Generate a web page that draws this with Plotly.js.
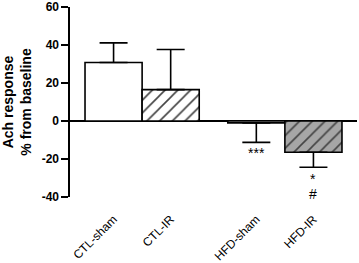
<!DOCTYPE html>
<html>
<head>
<meta charset="utf-8">
<script src="https://cdn.plot.ly/plotly-3.0.1.min.js"></script>
<style>
  body { margin: 0; background: #fff; }
  #chart { width: 359px; height: 263px; }
</style>
</head>
<body>
<div id="chart"></div>
<script>
// Ach response chart, bars with one sided SEM

let groups = ['CTL-sham', 'CTL-IR', 'HFD-sham', 'HFD-IR']
let groupPos = [0, 1, 2.5, 3.5]
let means = [30.8, 16.5, -1.0, -16.5]
let errUp = [10.4, 21.2, 0, 0]
let errDown = [0, 0, 10.3, 7.9]
let fills = ['#ffffff', '#ffffff', '#ffffff', '#a6a6a6']
let hatch = ['', '/', '', '/']

let sigText = ['***', '*', '#']
let sigX = [2.5, 3.5, 3.5]
let sigY = [-16.8, -30.4, -38.6]

let font = 'Arial, "Liberation Sans", sans-serif'

let trace = {
    type: 'bar',
    x: groupPos,
    y: means,
    width: 1,
    marker: {
        color: fills,
        line: { color: '#000', width: 1.6 },
        pattern: {
            shape: hatch,
            fillmode: 'overlay',
            fgcolor: '#000',
            fgopacity: 1,
            size: 9,
            solidity: 0.18
        }
    },
    error_y: {
        type: 'data',
        symmetric: false,
        array: errUp,
        arrayminus: errDown,
        color: '#000',
        thickness: 1.6,
        width: 14
    },
    hoverinfo: 'skip'
}

let layout = {
    width: 359,
    height: 263,
    margin: { t: 7, b: 66, l: 70, r: 2 },
    paper_bgcolor: '#fff',
    plot_bgcolor: '#fff',
    showlegend: false,
    font: { family: font, color: '#000' },
    xaxis: {
        range: [-0.763, 4.263],
        tickmode: 'array',
        tickvals: groupPos,
        ticktext: groups,
        tickangle: -45,
        ticks: '',
        showline: false,
        showgrid: false,
        zeroline: false,
        ticklabelstandoff: 12,
        tickfont: { size: 12, family: font, color: '#000' }
    },
    yaxis: {
        range: [-40.1, 60.1],
        tickmode: 'array',
        tickvals: [-40, -20, 0, 20, 40, 60],
        ticktext: ['-40', '-20', '0', '20', '40', '60'],
        ticklabeloverflow: 'allow',
        ticks: 'outside',
        ticklen: 7,
        tickwidth: 1.6,
        tickcolor: '#000',
        showline: true,
        linewidth: 1.6,
        linecolor: '#000',
        showgrid: false,
        zeroline: true,
        zerolinecolor: '#000',
        zerolinewidth: 1.6,
        tickfont: { size: 12, family: font, color: '#000', weight: 'bold' },
        title: {
            text: 'Ach response<br>% from baseline',
            font: { size: 14, family: font, color: '#000', weight: 'bold' },
            standoff: 8
        }
    },
    annotations: sigText.map((t, i) => ({
        x: sigX[i],
        y: sigY[i],
        text: t,
        showarrow: false,
        font: { size: 14, family: font, color: '#000' }
    }))
}

Plotly.newPlot('chart', [trace], layout, { staticPlot: true, displayModeBar: false })
</script>
</body>
</html>
